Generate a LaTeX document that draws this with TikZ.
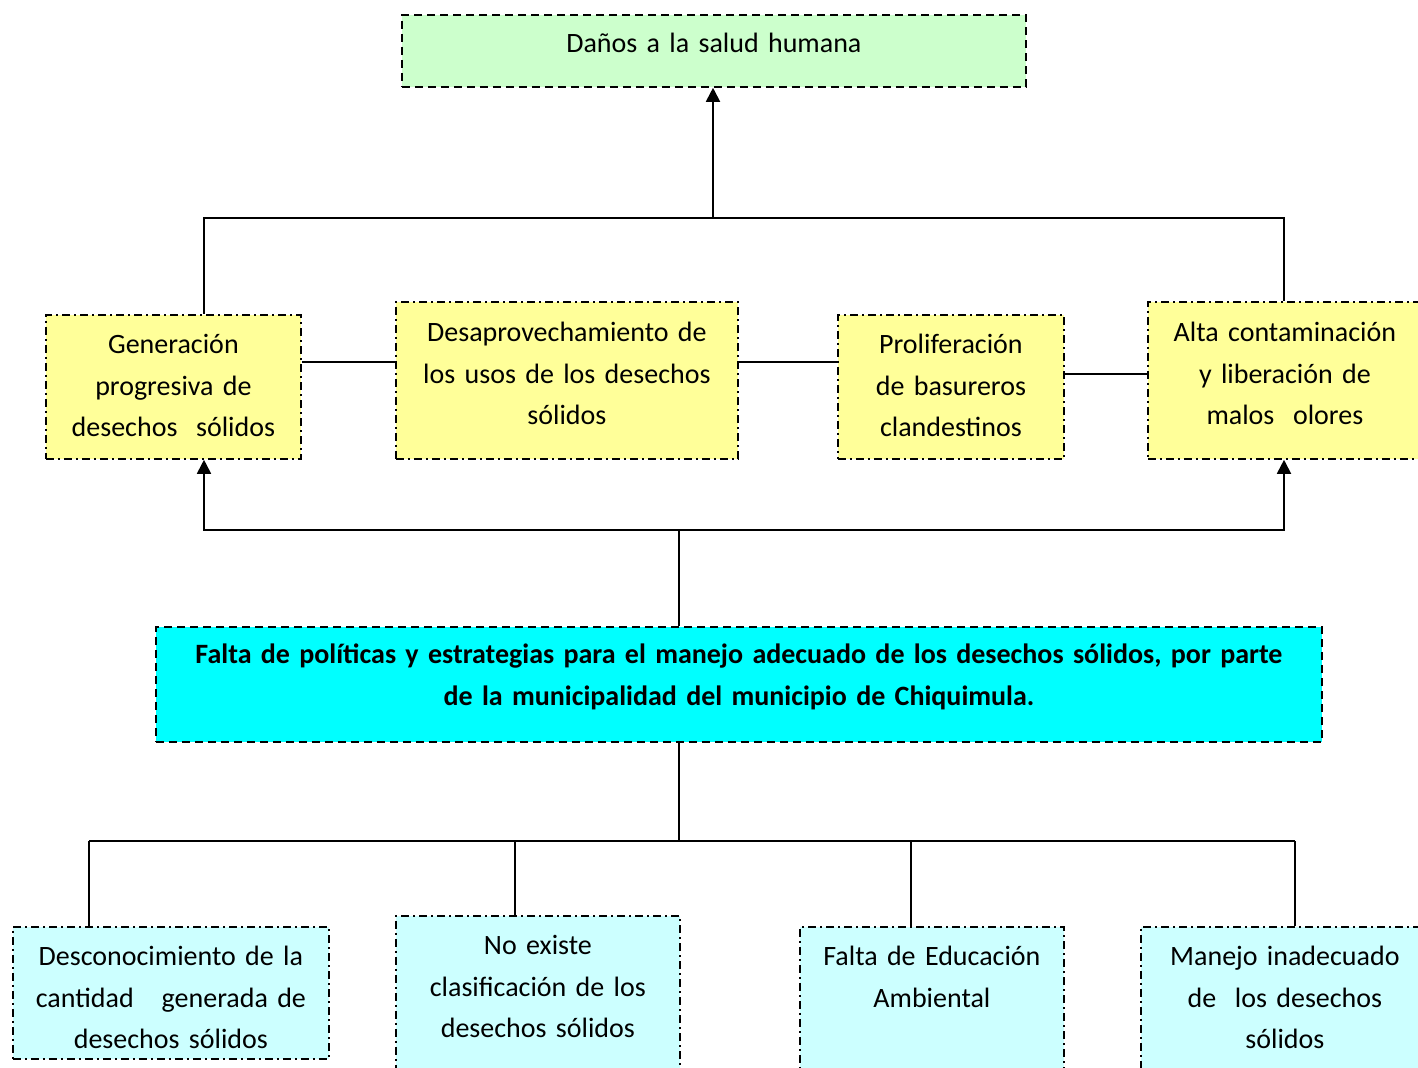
\documentclass[tikz,border=0pt]{standalone}
\usepackage{fontspec}
\setmainfont{Carlito}
\usetikzlibrary{arrows.meta}

\definecolor{verdeclaro}{HTML}{CCFFCC}
\definecolor{amarillo}{HTML}{FFFF99}
\definecolor{celeste}{HTML}{00FFFF}
\definecolor{celesteclaro}{HTML}{CCFFFF}

\begin{document}
\begin{tikzpicture}[x=0.5pt, y=-0.5pt, line width=0.9pt]
    \tikzset{%
      caja/.style={draw, anchor=north west, inner xsep=0pt, inner ysep=0pt, align=center,
        font=\fontsize{14pt}{20.75pt}\selectfont},
      efecto/.style={caja, fill=amarillo, dash pattern=on 4pt off 2pt on 1pt off 2pt},
      causa/.style={caja, fill=celesteclaro, dash pattern=on 4pt off 2pt on 1pt off 2pt},
      problema/.style={caja, dash pattern=on 4pt off 2.5pt},
      flecha/.style={-{Triangle[width=7pt,length=7pt]}}
      }
    \path [use as bounding box, clip] (0,0) rectangle (1418,1068);

    % efecto final
    \node [problema, fill=verdeclaro, text width=312pt, text height=18.75pt, text depth=17.25pt]
      (danos) at (401,14) {Daños a la salud humana};

    % efectos
    \node [efecto, text width=127.5pt, text height=19.5pt, text depth=52.5pt] (gen) at (45,314)
      {Generación\\progresiva de\\desechos~ sólidos};
    \node [efecto, text width=171pt, text height=20pt, text depth=58.5pt] (desap) at (395,301)
      {Desaprovechamiento de\\los usos de los desechos\\sólidos};
    \node [efecto, text width=113pt, text height=19.5pt, text depth=52.5pt] (prolif) at (837,314)
      {Proliferación\\de basureros\\clandestinos};
    \node [efecto, text width=137pt, text height=20pt, text depth=58.5pt] (alta) at (1147,301)
      {Alta contaminación\\y liberación de\\malos~ olores};

    % problema central
    \node [problema, fill=celeste, text width=583pt, text height=18.5pt, text depth=39pt,
      font=\fontsize{14pt}{20.75pt}\selectfont\bfseries] (falta) at (155,626)
      {Falta de políticas y estrategias para el manejo adecuado de los desechos sólidos, por parte\\
       de la municipalidad del municipio de Chiquimula.};

    % causas
    \node [causa, text width=158pt, text height=19.5pt, text depth=46.5pt] (descon) at (12,926)
      {Desconocimiento de la\\cantidad~~ generada de\\desechos sólidos};
    \node [causa, text width=142pt, text height=19.5pt, text depth=63pt] (noexiste) at (395,915)
      {No existe\\clasificación de los\\desechos sólidos};
    \node [causa, text width=132pt, text height=19.5pt, text depth=57.5pt] (edu) at (799,926)
      {Falta de Educación\\Ambiental};
    \node [causa, text width=144pt, text height=19.5pt, text depth=57.5pt] (manejo) at (1140,926)
      {Manejo inadecuado\\de~ los desechos\\sólidos};

    % union de efectos
    \coordinate (ja) at (713,218);
    \coordinate (jal) at (204,218);
    \coordinate (jar) at (1284,218);
    \draw [flecha] (ja) -- (ja |- danos.south);
    \draw (jal |- gen.north) -- (jal) -- (jar) -- (jar |- alta.north);

    \draw ([yshift=12.5pt]gen.east) -- ([yshift=12.5pt]gen.east -| desap.west);
    \draw ([yshift=9.25pt]desap.east) -- ([yshift=9.25pt]desap.east -| prolif.west);
    \draw ([yshift=6.5pt]prolif.east) -- ([yshift=6.5pt]prolif.east -| alta.west);

    % problema hacia efectos
    \coordinate (jb) at (679,530);
    \coordinate (jbl) at (204,530);
    \coordinate (jbr) at (1284,530);
    \draw (falta.north -| jb) -- (jb);
    \draw [flecha] (jb) -- (jbl) -- (jbl |- gen.south);
    \draw [flecha] (jb) -- (jbr) -- (jbr |- alta.south);

    % causas hacia problema
    \coordinate (jc) at (679,841);
    \coordinate (jc1) at (89,841);
    \coordinate (jc2) at (515,841);
    \coordinate (jc3) at (911,841);
    \coordinate (jc4) at (1295,841);
    \draw (falta.south -| jc) -- (jc);
    \draw (jc1) -- (jc4);
    \draw (jc1) -- (jc1 |- descon.north);
    \draw (jc2) -- (jc2 |- noexiste.north);
    \draw (jc3) -- (jc3 |- edu.north);
    \draw (jc4) -- (jc4 |- manejo.north);

  \end{tikzpicture}
\end{document}
